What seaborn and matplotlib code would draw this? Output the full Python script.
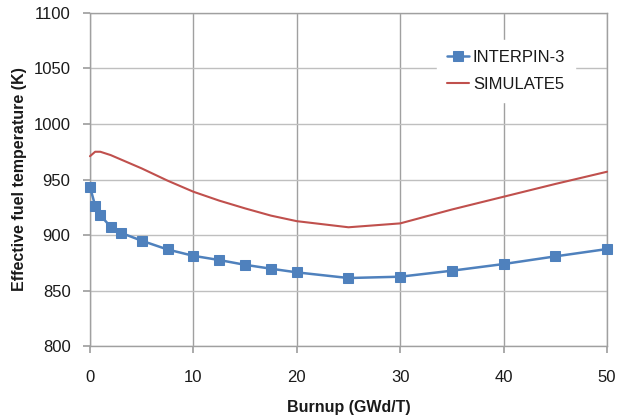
import matplotlib
matplotlib.use("Agg")
import matplotlib.pyplot as plt
import seaborn as sns
import pandas as pd

interp_x = [0, 0.5, 1, 2, 3, 5, 7.5, 10, 12.5, 15, 17.5, 20, 25, 30, 35, 40, 45, 50]
interp_y = [943.5, 926.4, 917.7, 907.5, 902, 894.9, 887, 881.3, 877.5, 873.2, 869.7, 866.4, 861.3, 862.5, 867.9, 873.9, 880.8, 887.4]
sim_x = [0, 0.5, 1, 2, 3, 5, 7.5, 10, 12.5, 15, 17.5, 20, 25, 30, 35, 40, 45, 50]
sim_y = [971, 975, 975, 972, 968, 960, 949, 939, 931, 924, 917.5, 912.5, 907, 910.5, 923, 934.5, 946, 957]

x_ticks = [0, 10, 20, 30, 40, 50]
y_ticks = [800, 850, 900, 950, 1000, 1050, 1100]

sns.set_theme(style="white")
plt.rcParams['font.family'] = ['Liberation Sans', 'DejaVu Sans']

fig = plt.figure(figsize=(6.18, 4.17), dpi=100)
ax = fig.add_axes([0.1456, 0.170, 0.9822 - 0.1456, 0.969 - 0.170])

df_i = pd.DataFrame({"x": interp_x, "y": interp_y})
df_s = pd.DataFrame({"x": sim_x, "y": sim_y})

sns.lineplot(data=df_i, x="x", y="y", ax=ax, color="#4F81BD", lw=1.8,
             marker="s", markersize=6.5, markeredgecolor="#4F81BD", label="INTERPIN-3",
             zorder=3, clip_on=False)
sns.lineplot(data=df_s, x="x", y="y", ax=ax, color="#C0504D", lw=1.5,
             label="SIMULATE5", zorder=3, clip_on=False)

ax.set_xlim(0, 50)
ax.set_ylim(800, 1100)
ax.set_xticks(x_ticks)
ax.set_yticks(y_ticks)
ax.grid(True, axis="x", color="#a0a0a0", lw=1.0)
ax.grid(True, axis="y", color="#bfbfbf", lw=1.0)
ax.set_axisbelow(True)
for s in ax.spines.values():
    s.set_color("#a0a0a0")
    s.set_linewidth(1.0)
ax.tick_params(axis="both", labelsize=12, length=5, color="#a0a0a0", direction="out",
               labelcolor="#1a1a1a")
ax.tick_params(axis="x", bottom=True, pad=12)
ax.tick_params(axis="y", left=True, pad=9)
ax.set_xlabel("Burnup (GWd/T)", fontsize=11.5, fontweight="bold", labelpad=11, color="#1a1a1a")
ax.set_ylabel("Effective fuel temperature (K)", fontsize=11.5, fontweight="bold", labelpad=5,
              color="#1a1a1a")

leg = ax.legend(loc="upper left", bbox_to_anchor=(0.655, 0.945), frameon=True, fontsize=12,
                handlelength=1.3, handletextpad=0.25, labelspacing=0.75, borderpad=0.6)
leg.get_frame().set_edgecolor("white")
leg.get_frame().set_facecolor("white")
leg.get_frame().set_alpha(1)
for t in leg.get_texts():
    t.set_color("#1a1a1a")

fig.savefig("out.png", dpi=100)
